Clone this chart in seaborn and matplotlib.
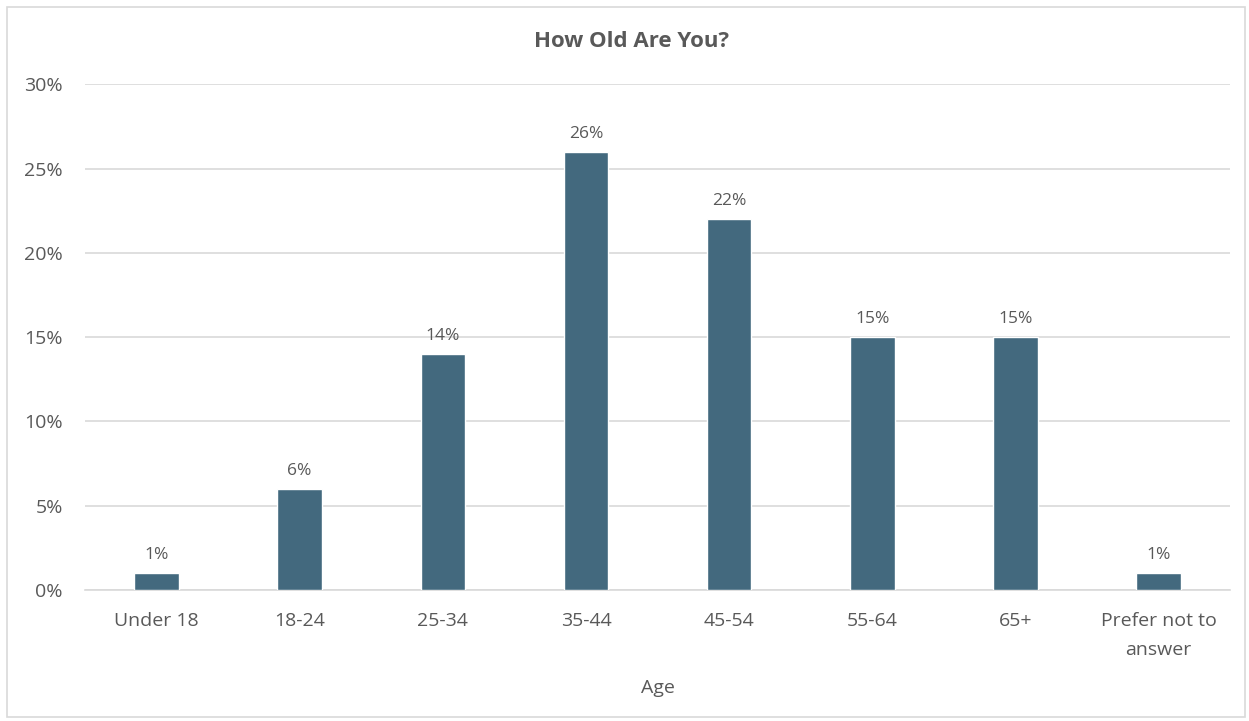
import matplotlib
matplotlib.use("Agg")
import matplotlib.pyplot as plt
import seaborn as sns
import pandas as pd
from matplotlib.patches import Rectangle
from matplotlib.ticker import PercentFormatter

age_groups = ["Under 18", "18-24", "25-34", "35-44", "45-54", "55-64", "65+", "Prefer not to\nanswer"]
share_pct = [1, 6, 14, 26, 22, 15, 15, 1]

df = pd.DataFrame({"Age": age_groups, "Share": share_pct})

sns.set_theme(style="white")
plt.rcParams["font.family"] = ["Open Sans", "DejaVu Sans"]

text_color = "#595959"
bar_color = "#43697E"
grid_color = "#D9D9D9"

fig = plt.figure(figsize=(12.49, 7.21), dpi=100)
ax = fig.add_axes([0.068, 0.182, 0.917, 0.701])

sns.barplot(data=df, x="Age", y="Share", color=bar_color, width=0.31,
            saturation=1, ax=ax, zorder=3)

ax.set_ylim(0, 30)
ax.set_yticks(range(0, 31, 5))
ax.yaxis.set_major_formatter(PercentFormatter(decimals=0))
ax.grid(axis="y", color=grid_color, linewidth=1.2, zorder=0)
ax.grid(axis="x", visible=False)
for side in ["top", "right", "left"]:
    ax.spines[side].set_visible(False)
ax.spines["bottom"].set_color(grid_color)
ax.spines["bottom"].set_linewidth(1.2)
ax.tick_params(axis="both", length=0, labelsize=14, colors=text_color)
ax.tick_params(axis="y", pad=16)
ax.tick_params(axis="x", pad=16)
for lbl in ax.get_xticklabels():
    lbl.set_linespacing(1.8)

for c in ax.containers:
    ax.bar_label(c, labels=[f"{v}%" for v in share_pct], padding=7,
                 fontsize=12.5, color=text_color)

ax.set_xlabel("Age", fontsize=14, color=text_color, labelpad=14)
ax.set_ylabel("")
fig.text(0.506, 0.942, "How Old Are You?", ha="center", va="center",
         fontsize=16, fontweight="bold", color=text_color)

fig.patches.append(Rectangle((0.006, 0.005), 0.991, 0.985, transform=fig.transFigure,
                             fill=False, edgecolor=grid_color, linewidth=1.2))

fig.savefig("out.png", dpi=100, facecolor="white")
